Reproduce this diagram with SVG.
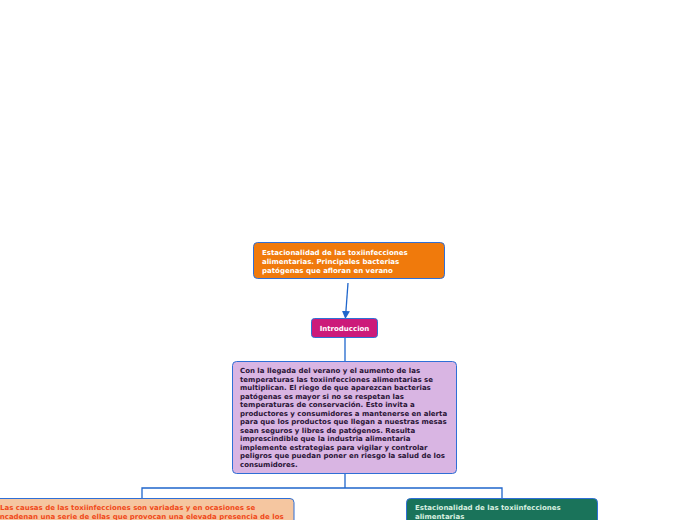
<svg xmlns="http://www.w3.org/2000/svg" width="696" height="520" viewBox="0 0 696 520">
<style>
.t{font-family:"DejaVu Sans",Verdana,sans-serif;font-weight:bold;font-size:7px}
.box{stroke:#2F6FD6;stroke-width:1}
.c{fill:none;stroke:#1F66CC;stroke-width:1.3}
</style>
<defs>
<marker id="ah" markerWidth="8" markerHeight="8" refX="6" refY="4" orient="auto" markerUnits="userSpaceOnUse">
<path d="M0,0 L8,4 L0,8 z" fill="#1F66CC"/>
</marker>
</defs>
<rect width="696" height="520" fill="#ffffff"/>
<g id="connectors">
<path class="c" d="M348,283 L345.5,317" marker-end="url(#ah)"/>
<path class="c" d="M345,338 L345,361"/>
<path class="c" d="M345,474 L345,488 M142,498 L142,488 L502,488 L502,498"/>
</g>
<g id="n1">
<rect class="box" x="253.5" y="242.5" width="191" height="36" rx="4" fill="#F07A0C"/>
<text class="t" fill="#ffffff"><tspan x="262" y="255">Estacionalidad de las toxiinfecciones</tspan><tspan x="262" y="264">alimentarias. Principales bacterias</tspan><tspan x="262" y="273">patógenas que afloran en verano</tspan></text>
</g>
<g id="n2">
<rect class="box" x="311.5" y="318.5" width="66" height="19" rx="3" fill="#CC1A7A"/>
<text class="t" fill="#ffffff" x="344.5" y="330.5" text-anchor="middle">Introduccion</text>
</g>
<g id="n3">
<rect class="box" x="232.5" y="361.5" width="224" height="112" rx="4" fill="#D9B5E3"/>
<text class="t" fill="#2A1436"><tspan x="240" y="373">Con la llegada del verano y el aumento de las</tspan><tspan x="240" y="381.5">temperaturas las toxiinfecciones alimentarias se</tspan><tspan x="240" y="390">multiplican. El riego de que aparezcan bacterias</tspan><tspan x="240" y="398.5">patógenas es mayor si no se respetan las</tspan><tspan x="240" y="407">temperaturas de conservación. Esto invita a</tspan><tspan x="240" y="415.5">productores y consumidores a mantenerse en alerta</tspan><tspan x="240" y="424">para que los productos que llegan a nuestras mesas</tspan><tspan x="240" y="432.5">sean seguros y libres de patógenos. Resulta</tspan><tspan x="240" y="441">imprescindible que la industria alimentaria</tspan><tspan x="240" y="449.5">implemente estrategias para vigilar y controlar</tspan><tspan x="240" y="458">peligros que puedan poner en riesgo la salud de los</tspan><tspan x="240" y="466.5">consumidores.</tspan></text>
</g>
<g id="n4">
<rect class="box" x="-20" y="498.5" width="314" height="40" rx="4" fill="#F5C6A0"/>
<text class="t" fill="#F04A1A"><tspan x="0" y="510">Las causas de las toxiinfecciones son variadas y en ocasiones se</tspan><tspan x="-5" y="519">encadenan una serie de ellas que provocan una elevada presencia de los</tspan></text>
</g>
<g id="n5">
<rect class="box" x="406.5" y="498.5" width="191" height="40" rx="4" fill="#1A735A"/>
<text class="t" fill="#D8F0E0"><tspan x="415" y="510">Estacionalidad de las toxiinfecciones</tspan><tspan x="415" y="519">alimentarias</tspan></text>
</g>
</svg>
